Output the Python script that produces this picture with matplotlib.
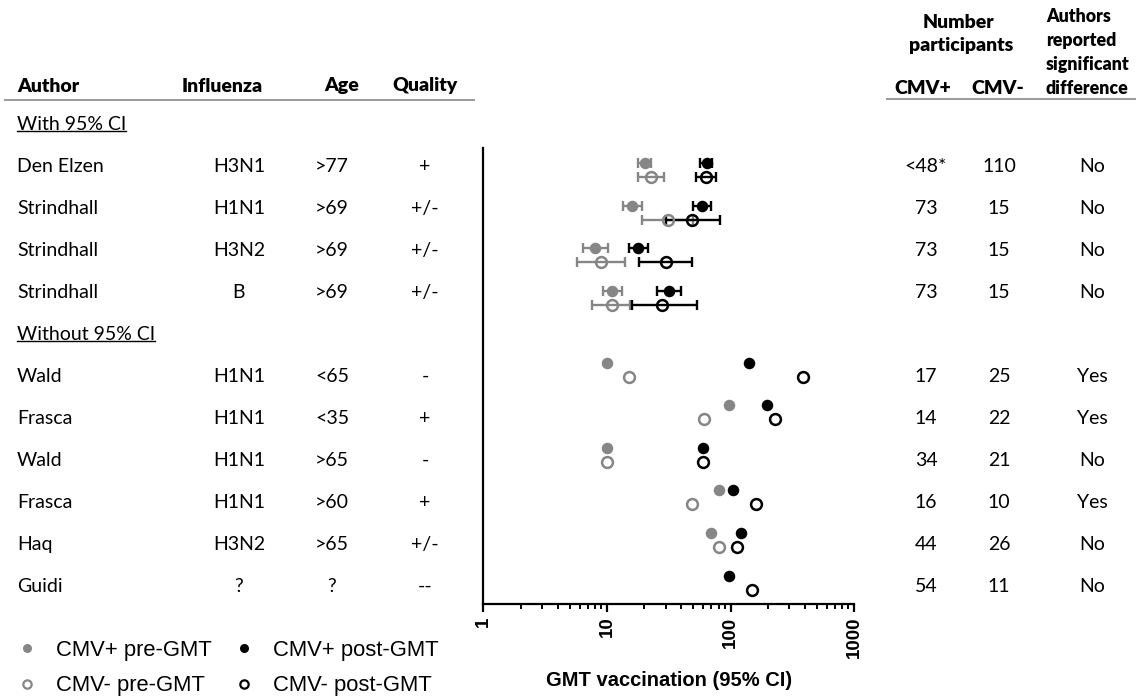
import numpy as np
import matplotlib
matplotlib.use('Agg')
import matplotlib.pyplot as plt
from matplotlib.lines import Line2D

# ---------------------------------------------------------------------------
# Data
# ---------------------------------------------------------------------------
authors = ['Den Elzen', 'Strindhall', 'Strindhall', 'Strindhall',
           'Wald', 'Frasca', 'Wald', 'Frasca', 'Haq', 'Guidi']
influenza = ['H3N1', 'H1N1', 'H3N2', 'B', 'H1N1', 'H1N1', 'H1N1', 'H1N1', 'H3N2', '?']
age = ['>77', '>69', '>69', '>69', '<65', '<35', '>65', '>60', '>65', '?']
quality = ['+', '+/-', '+/-', '+/-', '-', '+', '-', '+', '+/-', '--']
n_cmv_pos = ['<48*', '73', '73', '73', '17', '14', '34', '16', '44', '54']
n_cmv_neg = ['110', '15', '15', '15', '25', '22', '21', '10', '26', '11']
signif = ['No', 'No', 'No', 'No', 'Yes', 'Yes', 'No', 'Yes', 'No', 'No']
with_ci = [True, True, True, True, False, False, False, False, False, False]

# GMT values; NaN = not reported
pos_pre = [20.3, 15.9, 8.0, 11.0, 10, 98, 10, 80, 70, np.nan]
pos_pre_lo = [17.9, 13.4, 6.35, 9.2, np.nan, np.nan, np.nan, np.nan, np.nan, np.nan]
pos_pre_hi = [22.9, 19.2, 10.1, 13.2, np.nan, np.nan, np.nan, np.nan, np.nan, np.nan]

pos_post = [64, 58.5, 17.9, 31.8, 142, 196, 60, 104, 121, 97]
pos_post_lo = [57, 49.4, 15.2, 25.3, np.nan, np.nan, np.nan, np.nan, np.nan, np.nan]
pos_post_hi = [71, 70, 21.3, 40, np.nan, np.nan, np.nan, np.nan, np.nan, np.nan]

neg_pre = [22.6, 31, 8.9, 11.0, 15.1, 61, 10, 49, 80, np.nan]
neg_pre_lo = [17.9, 19.3, 5.75, 7.5, np.nan, np.nan, np.nan, np.nan, np.nan, np.nan]
neg_pre_hi = [29, 50, 14.1, 15.3, np.nan, np.nan, np.nan, np.nan, np.nan, np.nan]

neg_post = [63, 49, 30, 27.7, 384, 229, 60, 160, 113, 149]
neg_post_lo = [52.5, 30, 18.3, 15.8, np.nan, np.nan, np.nan, np.nan, np.nan, np.nan]
neg_post_hi = [77, 82, 48.8, 54, np.nan, np.nan, np.nan, np.nan, np.nan, np.nan]

xticks = [1, 10, 100, 1000]

# ---------------------------------------------------------------------------
# Layout helpers (pixel coordinates of a 1136x697 canvas)
# ---------------------------------------------------------------------------
W, H = 1136, 697
GRAY = '#868686'
TABLE_FONT = 'Lato'
PLOT_FONT = 'Liberation Sans'
FS = 14


def fx(x):
    return x / W


def fy(y):
    return 1 - y / H


fig = plt.figure(figsize=(W / 100, H / 100), dpi=100, facecolor='white')

# row positions in the forest plot (gap between the two groups)
group_gap = 0.68
ypos = np.array([i + (0 if ci else group_gap) for i, ci in enumerate(with_ci)])
off = 0.165

ax = fig.add_axes([fx(483.5), fy(604), fx(854) - fx(483.5), (604 - 148) / H])
ax.set_xscale('log')
ax.set_xlim(1, 1000)
ax.set_ylim(9.68 + 0.5, -0.52)


def draw(vals, lo, hi, y, color, filled):
    vals = np.array(vals, dtype=float)
    lo = np.array(lo, dtype=float)
    hi = np.array(hi, dtype=float)
    err = np.vstack([vals - lo, hi - vals])
    ax.errorbar(vals, y, xerr=err, fmt='none', ecolor=color, elinewidth=1.7,
                capsize=3.8, capthick=1.7, zorder=2)
    ax.plot(vals, y, 'o', ms=8.3 if filled else 7.8,
            mfc=color if filled else 'none', mec=color,
            mew=0 if filled else 1.8, zorder=3, linestyle='none')


draw(pos_pre, pos_pre_lo, pos_pre_hi, ypos - off, GRAY, True)
draw(neg_pre, neg_pre_lo, neg_pre_hi, ypos + off, GRAY, False)
draw(pos_post, pos_post_lo, pos_post_hi, ypos - off, 'black', True)
draw(neg_post, neg_post_lo, neg_post_hi, ypos + off, 'black', False)

for s in ['top', 'right']:
    ax.spines[s].set_visible(False)
for s in ['left', 'bottom']:
    ax.spines[s].set_linewidth(1.6)
ax.set_yticks([])
ax.set_xticks(xticks)
ax.set_xticklabels([str(t) for t in xticks], rotation=90, fontsize=13.5,
                   fontweight='bold', family=PLOT_FONT)
ax.tick_params(axis='x', which='major', length=6, width=1.6, pad=3)
ax.tick_params(axis='x', which='minor', length=3.5, width=1.4)
ax.set_xlabel('GMT vaccination (95% CI)', fontsize=14.5, fontweight='bold',
              family=PLOT_FONT, labelpad=9)

# ---------------------------------------------------------------------------
# Left table
# ---------------------------------------------------------------------------
hdr = dict(fontsize=FS, fontweight='heavy', family=TABLE_FONT, va='center')
fig.text(fx(17), fy(86), 'Author', ha='left', **hdr)
fig.text(fx(222), fy(86), 'Influenza', ha='center', **hdr)
fig.text(fx(342), fy(86), 'Age', ha='center', **hdr)
fig.text(fx(425), fy(86), 'Quality', ha='center', **hdr)
fig.add_artist(Line2D([fx(5), fx(474)], [fy(99.5), fy(99.5)], color='#9a9a9a', lw=1.4))

row_y0 = 166.7
row_dy = 42.0
cell = dict(fontsize=FS, family=TABLE_FONT, va='center', color='black')

section_texts = []
section_texts.append(fig.text(fx(17), fy(row_y0 - row_dy), 'With 95% CI', ha='left', **cell))
section_texts.append(fig.text(fx(17), fy(row_y0 + 4 * row_dy), 'Without 95% CI', ha='left', **cell))

for i in range(len(authors)):
    k = i if with_ci[i] else i + 1
    y = fy(row_y0 + k * row_dy)
    fig.text(fx(17), y, authors[i], ha='left', **cell)
    fig.text(fx(239), y, influenza[i], ha='center', **cell)
    fig.text(fx(332), y, age[i], ha='center', **cell)
    fig.text(fx(425), y, quality[i], ha='center', **cell)
    fig.text(fx(926), y, n_cmv_pos[i], ha='center', **cell)
    fig.text(fx(999), y, n_cmv_neg[i], ha='center', **cell)
    fig.text(fx(1092), y, signif[i], ha='center', **cell)

# ---------------------------------------------------------------------------
# Right table header
# ---------------------------------------------------------------------------
fig.text(fx(958), fy(22.7), 'Number', ha='center', **hdr)
fig.text(fx(961), fy(45.5), 'participants', ha='center', **hdr)
fig.text(fx(923), fy(88.3), 'CMV+', ha='center', **hdr)
fig.text(fx(998), fy(88.3), 'CMV-', ha='center', **hdr)
hdr_small = dict(hdr, fontsize=12.8)
for j, word in enumerate(['Authors', 'reported', 'significant', 'difference']):
    fig.text(fx(1046), fy(17 + j * 23.8), word, ha='left', **hdr_small)
fig.add_artist(Line2D([fx(887), fx(1136)], [fy(98.5), fy(98.5)], color='#9a9a9a', lw=1.4))

# underline section titles
fig.canvas.draw()
renderer = fig.canvas.get_renderer()
for t in section_texts:
    bb = t.get_window_extent(renderer)
    yl = bb.y0 + 2
    fig.add_artist(Line2D([bb.x0 / W, bb.x1 / W], [yl / H, yl / H], color='black', lw=1.0))

# ---------------------------------------------------------------------------
# Legend
# ---------------------------------------------------------------------------
handles = [
    Line2D([], [], marker='o', ls='none', ms=6.5, mfc=GRAY, mec=GRAY, mew=0),
    Line2D([], [], marker='o', ls='none', ms=6, mfc='none', mec=GRAY, mew=1.6),
    Line2D([], [], marker='o', ls='none', ms=6.5, mfc='black', mec='black', mew=0),
    Line2D([], [], marker='o', ls='none', ms=6, mfc='none', mec='black', mew=1.6),
]
labels = ['CMV+ pre-GMT', 'CMV- pre-GMT', 'CMV+ post-GMT', 'CMV- post-GMT']
fig.legend(handles, labels, ncol=2, frameon=False, loc='upper left',
           bbox_to_anchor=(fx(16), fy(640)), prop={'family': PLOT_FONT, 'size': 15.8},
           handlelength=1.0, handletextpad=0.8, columnspacing=1.0,
           labelspacing=0.66, borderpad=0, borderaxespad=0)

fig.savefig('out.png', dpi=100, facecolor='white')
